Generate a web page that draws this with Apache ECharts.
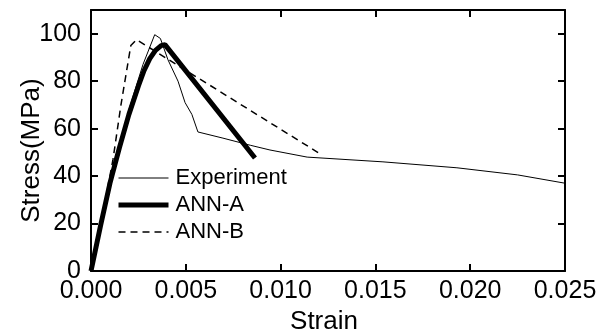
<!DOCTYPE html>
<html>
<head>
<meta charset="utf-8">
<script src="https://cdn.jsdelivr.net/npm/echarts@6/dist/echarts.min.js"></script>
<style>
html, body { margin: 0; padding: 0; background: #fff; }
#main { width: 600px; height: 331px; }
</style>
</head>
<body>
<div id="main"></div>
<script>
// 曲线数据 (strain, stress MPa)
var expStrain = [0, 0.001, 0.002, 0.00274, 0.00336, 0.00366, 0.00406, 0.00459, 0.00496, 0.00532, 0.00564, 0.00696, 0.0084, 0.00944, 0.0114, 0.0154, 0.0193, 0.0225, 0.025];
var expStress = [0, 38, 68, 87, 99.6, 98, 89, 80, 71, 66, 58.6, 56, 53, 51, 48, 46, 43.5, 40.5, 37];

var annAStrain = [0, 0.0005, 0.001, 0.0015, 0.002, 0.0025, 0.0028, 0.0031, 0.0034, 0.0037, 0.0039, 0.00865];
var annAStress = [0, 19, 37, 52, 66, 78, 84.5, 89.5, 93, 95, 95.4, 47.6];

var annBStrain = [0, 0.0005, 0.00116, 0.00158, 0.0021, 0.0024, 0.012];
var annBStress = [0, 19, 47, 70, 95, 97.5, 49.8];

var xTicks = [0, 0.005, 0.010, 0.015, 0.020, 0.025];

function pairs(xs, ys) {
    var out = [];
    for (var i = 0; i < xs.length; i++) {
        out.push([xs[i], ys[i]]);
    }
    return out;
}

var font = "'Liberation Sans', Arial, sans-serif";
var myChart = echarts.init(document.getElementById('main'));

var axisLine = { show: true, onZero: false, lineStyle: { color: '#000', width: 2 } };
var axisTick = { show: true, inside: true, length: 7, lineStyle: { color: '#000', width: 2 } };

var option = {
    animation: false,
    grid: { left: 91, right: 35, top: 10, bottom: 60, containLabel: false, outerBoundsMode: 'none' },
    legend: {
        orient: 'vertical',
        left: 111,
        top: 162,
        itemWidth: 50,
        itemHeight: 14,
        itemGap: 5,
        itemStyle: { color: 'rgba(0,0,0,0)', borderWidth: 0 },
        textStyle: { fontFamily: font, fontSize: 22, color: '#000', padding: [0, 0, 0, 2] },
        data: [
            { name: 'Experiment', lineStyle: { width: 1 } },
            { name: 'ANN-A', lineStyle: { width: 5 } },
            { name: 'ANN-B', lineStyle: { width: 1.5, type: [7, 5] } }
        ]
    },
    xAxis: [{
        type: 'value',
        min: xTicks[0],
        max: xTicks[xTicks.length - 1],
        interval: 0.005,
        name: 'Strain',
        nameLocation: 'middle',
        nameGap: 38,
        nameMoveOverlap: false,
        nameTextStyle: { fontFamily: font, fontSize: 26, color: '#000', padding: [0, 8, 0, 0] },
        axisLine: axisLine,
        axisTick: axisTick,
        splitLine: { show: false },
        axisLabel: {
            fontFamily: font, fontSize: 25, color: '#000', margin: 8,
            formatter: function (v) { return v.toFixed(3); }
        }
    }, {
        type: 'value',
        position: 'top',
        min: 0, max: 0.025, interval: 0.005,
        axisLine: axisLine,
        axisTick: axisTick,
        axisLabel: { show: false },
        splitLine: { show: false }
    }],
    yAxis: [{
        type: 'value',
        min: 0,
        max: 110,
        interval: 20,
        name: 'Stress(MPa)',
        nameLocation: 'middle',
        nameGap: 46,
        nameMoveOverlap: false,
        nameTextStyle: { fontFamily: font, fontSize: 26, color: '#000', padding: [0, 20, 0, 0] },
        axisLine: axisLine,
        axisTick: axisTick,
        splitLine: { show: false },
        axisLabel: {
            fontFamily: font, fontSize: 25, color: '#000', margin: 10,
            showMaxLabel: false
        }
    }, {
        type: 'value',
        position: 'right',
        min: 0, max: 110, interval: 20,
        axisLine: axisLine,
        axisTick: axisTick,
        axisLabel: { show: false },
        splitLine: { show: false }
    }],
    series: [{
        name: 'Experiment',
        type: 'line',
        symbol: 'none',
        lineStyle: { color: '#000', width: 1 },
        itemStyle: { color: '#000' },
        data: pairs(expStrain, expStress)
    }, {
        name: 'ANN-A',
        type: 'line',
        symbol: 'none',
        lineStyle: { color: '#000', width: 5 },
        itemStyle: { color: '#000' },
        data: pairs(annAStrain, annAStress)
    }, {
        name: 'ANN-B',
        type: 'line',
        symbol: 'none',
        lineStyle: { color: '#000', width: 1.5, type: [7, 5] },
        itemStyle: { color: '#000' },
        data: pairs(annBStrain, annBStress)
    }]
};

myChart.setOption(option);
</script>
</body>
</html>
